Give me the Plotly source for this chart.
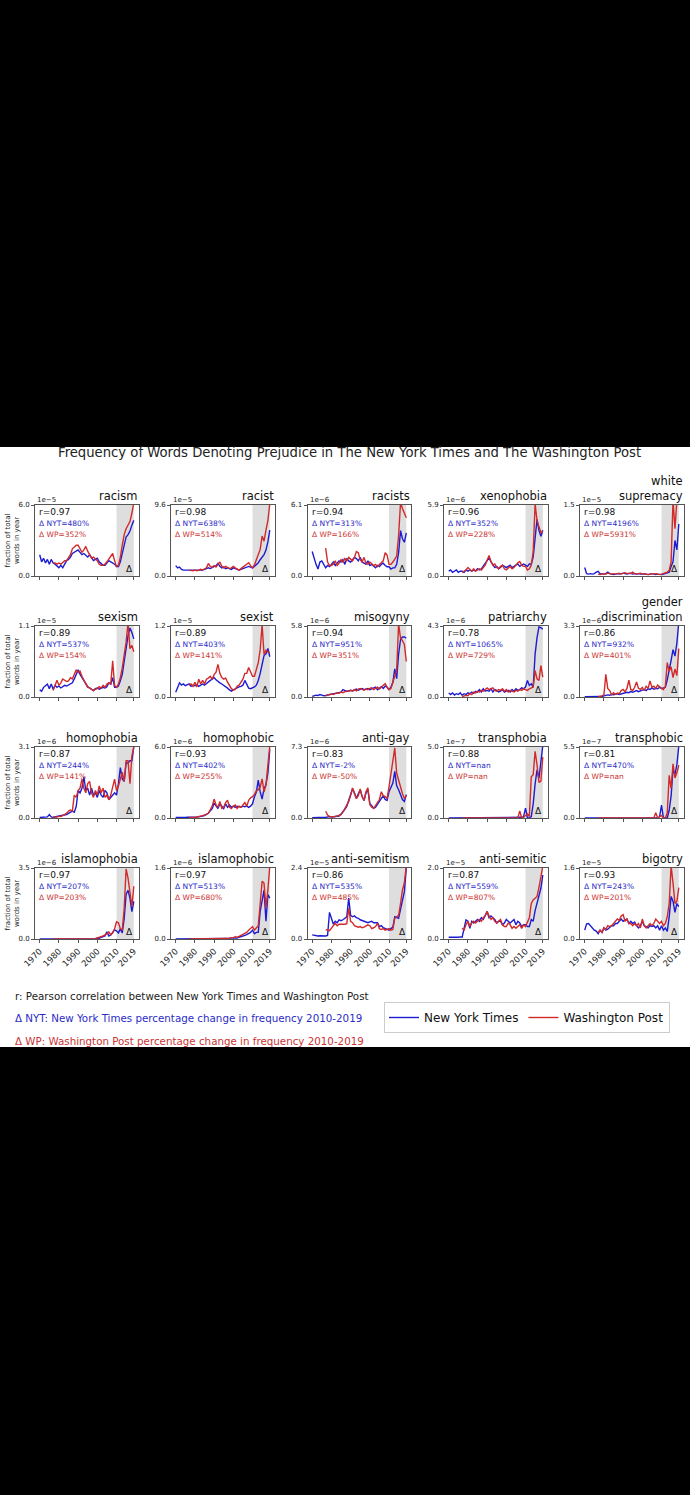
import plotly.graph_objects as go

W, H = 690, 1495

YEARS_NYT = list(range(1970, 2020))   # New York Times years
YEARS_WP = list(range(1977, 2020))    # Washington Post years

TERMS = ["racism", "racist", "racists", "xenophobia", "white supremacy",
         "sexism", "sexist", "misogyny", "patriarchy", "gender discrimination",
         "homophobia", "homophobic", "anti-gay", "transphobia", "transphobic",
         "islamophobia", "islamophobic", "anti-semitism", "anti-semitic", "bigotry"]
TITLES = ["racism", "racist", "racists", "xenophobia", "white<br>supremacy",
          "sexism", "sexist", "misogyny", "patriarchy", "gender<br>discrimination",
          "homophobia", "homophobic", "anti-gay", "transphobia", "transphobic",
          "islamophobia", "islamophobic", "anti-semitism", "anti-semitic", "bigotry"]
R_VALUES = ["0.97", "0.98", "0.94", "0.96", "0.98",
            "0.89", "0.89", "0.94", "0.78", "0.86",
            "0.87", "0.93", "0.83", "0.88", "0.81",
            "0.97", "0.97", "0.86", "0.87", "0.93"]
DELTA_NYT = ["480%", "638%", "313%", "352%", "4196%",
             "537%", "403%", "951%", "1065%", "932%",
             "244%", "402%", "-2%", "nan", "470%",
             "207%", "513%", "535%", "559%", "243%"]
DELTA_WP = ["352%", "514%", "166%", "228%", "5931%",
            "154%", "141%", "351%", "729%", "401%",
            "141%", "255%", "-50%", "nan", "nan",
            "203%", "680%", "485%", "807%", "201%"]
EXPONENTS = [-5, -5, -6, -6, -5,
             -5, -5, -6, -6, -6,
             -6, -6, -6, -7, -7,
             -6, -6, -5, -5, -5]
Y_MAX = [6.0, 9.6, 6.1, 5.9, 1.5,
         1.1, 1.2, 5.8, 4.3, 3.3,
         3.1, 6.0, 7.3, 5.0, 5.5,
         3.5, 1.6, 2.4, 2.0, 1.6]
X_TICKS = [1970, 1980, 1990, 2000, 2010, 2019]

# values in units of 10^EXPONENT (fraction of total words in year)
racism_nyt = [1.8, 1.2, 1.5, 1.1, 1.4, 1.0, 1.4, 1.1, 1.0, 0.8,
              0.7, 0.9, 0.7, 1.0, 1.3, 1.4, 1.6, 1.9, 2.0, 2.1,
              2.2, 2.0, 1.8, 1.9, 1.7, 1.6, 1.8, 1.5, 1.3, 1.4,
              1.5, 1.2, 1.0, 0.9, 0.9, 1.1, 1.3, 1.2, 1.1, 1.0,
              0.8, 0.8, 1.2, 2.0, 2.8, 3.3, 3.5, 3.8, 4.3, 4.7]
racism_wp = [1.1, 1.1, 1.0, 1.1, 1.0, 1.2, 1.3, 1.3, 1.5, 1.8,
             2.3, 2.5, 2.6, 2.6, 2.3, 2.0, 2.2, 2.5, 2.1, 1.8,
             1.5, 1.6, 1.4, 1.3, 1.0, 0.9, 0.9, 1.0, 1.2, 1.4,
             1.7, 1.9, 1.3, 0.8, 0.9, 1.6, 2.6, 3.5, 4.0, 4.3,
             4.6, 5.3, 6.2]
racist_nyt = [1.4, 1.1, 1.2, 0.9, 0.8, 0.8, 0.7, 0.8, 0.8, 0.7,
              0.8, 0.7, 0.7, 0.8, 0.8, 0.9, 1.0, 1.1, 1.0, 1.1,
              1.3, 1.4, 1.7, 1.3, 1.1, 1.2, 1.0, 1.1, 1.0, 0.9,
              1.1, 1.0, 0.9, 0.8, 0.9, 1.0, 1.1, 1.2, 1.3, 1.2,
              1.1, 1.3, 1.5, 1.8, 2.2, 2.6, 2.9, 3.5, 4.6, 6.2]
racist_wp = [0.8, 0.7, 0.7, 0.8, 0.7, 0.8, 0.9, 0.8, 1.0, 1.1,
             1.7, 1.3, 1.2, 1.4, 1.2, 1.6, 1.9, 1.3, 1.1, 1.3,
             1.2, 1.0, 1.1, 1.3, 1.1, 0.9, 0.8, 1.0, 1.2, 1.4,
             1.7, 1.8, 1.4, 1.1, 1.5, 2.2, 3.0, 3.6, 5.4, 4.7,
             6.2, 7.5, 9.8]
racists_nyt = [2.1, 1.5, 1.0, 0.6, 1.2, 1.3, 1.0, 0.7, 0.9, 0.8,
               1.0, 1.2, 0.9, 1.1, 1.3, 1.2, 1.4, 1.0, 1.5, 1.3,
               1.2, 1.4, 1.6, 1.5, 1.3, 1.6, 1.2, 1.1, 1.0, 1.3,
               0.9, 1.0, 0.8, 0.7, 0.9, 0.8, 1.0, 1.1, 0.9, 0.8,
               0.8, 0.6, 0.7, 0.7, 1.0, 2.0, 3.9, 3.2, 2.9, 3.7]
racists_wp = [2.4, 1.2, 0.9, 0.9, 1.0, 1.3, 0.9, 1.1, 1.4, 1.2,
              1.5, 1.3, 1.6, 1.4, 1.3, 1.6, 2.1, 2.0, 1.4, 1.2,
              1.6, 1.1, 1.0, 1.2, 1.0, 0.9, 1.0, 0.8, 1.0, 1.2,
              1.3, 2.0, 1.8, 1.0, 1.0, 1.2, 1.5, 1.7, 3.5, 6.3,
              5.8, 5.4, 5.0]
xenophobia_nyt = [0.4, 0.5, 0.3, 0.4, 0.5, 0.3, 0.4, 0.4, 0.3, 0.5,
                  0.4, 0.5, 0.4, 0.5, 0.4, 0.6, 0.5, 0.6, 0.8, 1.0,
                  1.3, 1.5, 1.2, 0.9, 0.7, 0.8, 0.6, 0.7, 0.9, 0.8,
                  0.7, 0.8, 0.9, 0.7, 0.8, 0.9, 1.0, 0.8, 0.9, 1.0,
                  0.9, 0.8, 1.0, 1.0, 1.6, 3.0, 4.7, 3.8, 3.3, 3.8]
xenophobia_wp = [0.3, 0.4, 0.5, 0.7, 0.5, 0.4, 0.6, 0.4, 0.5, 0.6,
                 0.5, 0.7, 0.9, 1.3, 1.7, 1.2, 0.9, 1.0, 0.7, 0.6,
                 0.8, 0.9, 0.6, 0.5, 0.7, 0.8, 0.6, 0.7, 0.9, 1.1,
                 1.2, 0.9, 0.8, 0.8, 0.5, 0.6, 0.9, 2.0, 6.0, 4.6,
                 4.1, 3.6, 3.7]
white_supremacy_nyt = [0.18, 0.05, 0.04, 0.05, 0.04, 0.05, 0.08, 0.10, 0.05, 0.04,
                       0.04, 0.05, 0.08, 0.05, 0.04, 0.03, 0.04, 0.05, 0.04, 0.05,
                       0.06, 0.05, 0.04, 0.05, 0.06, 0.04, 0.05, 0.04, 0.05, 0.04,
                       0.04, 0.05, 0.04, 0.03, 0.04, 0.05, 0.04, 0.03, 0.04, 0.03,
                       0.03, 0.04, 0.05, 0.06, 0.08, 0.20, 0.30, 0.75, 0.55, 1.10]
white_supremacy_wp = [0.04, 0.03, 0.04, 0.05, 0.04, 0.06, 0.05, 0.04, 0.05, 0.04,
                      0.05, 0.06, 0.04, 0.05, 0.07, 0.05, 0.06, 0.05, 0.08, 0.05,
                      0.04, 0.05, 0.06, 0.04, 0.05, 0.04, 0.03, 0.04, 0.05, 0.04,
                      0.05, 0.04, 0.03, 0.04, 0.05, 0.06, 0.08, 0.12, 0.30, 1.60,
                      1.00, 1.60, 1.80]
sexism_nyt = [0.11, 0.09, 0.15, 0.18, 0.20, 0.13, 0.20, 0.12, 0.18, 0.15,
              0.17, 0.14, 0.16, 0.18, 0.17, 0.19, 0.20, 0.22, 0.28, 0.35,
              0.42, 0.35, 0.30, 0.24, 0.20, 0.16, 0.14, 0.12, 0.10, 0.13,
              0.14, 0.12, 0.13, 0.15, 0.14, 0.16, 0.22, 0.20, 0.30, 0.15,
              0.15, 0.17, 0.25, 0.35, 0.55, 0.75, 0.95, 1.07, 1.00, 0.90]
sexism_wp = [0.10, 0.20, 0.26, 0.18, 0.22, 0.28, 0.26, 0.24, 0.25, 0.30,
             0.28, 0.36, 0.42, 0.38, 0.40, 0.32, 0.26, 0.20, 0.15, 0.14,
             0.12, 0.10, 0.12, 0.13, 0.16, 0.14, 0.18, 0.15, 0.20, 0.22,
             0.20, 0.56, 0.18, 0.15, 0.20, 0.30, 0.45, 0.65, 0.85, 1.15,
             0.75, 0.80, 0.70]
sexist_nyt = [0.08, 0.17, 0.24, 0.20, 0.22, 0.19, 0.20, 0.22, 0.18, 0.20,
              0.19, 0.21, 0.18, 0.20, 0.22, 0.20, 0.23, 0.25, 0.28, 0.30,
              0.33, 0.29, 0.26, 0.24, 0.22, 0.20, 0.18, 0.15, 0.12, 0.10,
              0.12, 0.14, 0.15, 0.17, 0.18, 0.20, 0.28, 0.22, 0.15, 0.14,
              0.15, 0.17, 0.20, 0.28, 0.40, 0.55, 0.70, 0.73, 0.82, 0.68]
sexist_wp = [0.20, 0.22, 0.18, 0.25, 0.17, 0.30, 0.22, 0.28, 0.22, 0.30,
             0.32, 0.35, 0.30, 0.38, 0.42, 0.55, 0.40, 0.33, 0.30, 0.32,
             0.25, 0.18, 0.14, 0.12, 0.13, 0.18, 0.20, 0.25, 0.30, 0.40,
             0.40, 0.50, 0.42, 0.35, 0.35, 0.45, 0.58, 0.80, 1.22, 0.72,
             0.79, 0.76, 0.75]
misogyny_nyt = [0.05, 0.10, 0.15, 0.12, 0.20, 0.15, 0.10, 0.12, 0.15, 0.20,
                0.20, 0.25, 0.30, 0.28, 0.35, 0.40, 0.60, 0.50, 0.45, 0.50,
                0.55, 0.50, 0.60, 0.65, 0.55, 0.60, 0.70, 0.60, 0.65, 0.70,
                0.60, 0.65, 0.70, 0.80, 0.60, 0.70, 0.85, 0.70, 0.90, 0.80,
                0.60, 0.80, 1.20, 2.30, 1.50, 3.50, 4.70, 4.90, 4.90, 4.80]
misogyny_wp = [0.10, 0.15, 0.20, 0.25, 0.20, 0.30, 0.35, 0.30, 0.40, 0.35,
               0.40, 0.50, 0.45, 0.55, 0.50, 0.60, 0.50, 0.65, 0.70, 0.60,
               0.55, 0.65, 0.60, 0.70, 0.75, 0.60, 0.70, 0.80, 0.65, 0.80,
               0.95, 1.10, 0.80, 0.60, 0.70, 1.20, 1.80, 2.20, 6.00, 4.80,
               4.60, 4.30, 2.90]
patriarchy_nyt = [0.24, 0.15, 0.25, 0.12, 0.20, 0.15, 0.25, 0.10, 0.20, 0.15,
                  0.25, 0.20, 0.30, 0.22, 0.35, 0.30, 0.45, 0.30, 0.50, 0.35,
                  0.40, 0.35, 0.50, 0.30, 0.45, 0.40, 0.30, 0.35, 0.45, 0.30,
                  0.35, 0.40, 0.30, 0.45, 0.35, 0.50, 0.40, 0.45, 0.55, 0.50,
                  0.60, 1.00, 0.70, 0.80, 0.60, 2.60, 3.60, 4.24, 4.20, 4.10]
patriarchy_wp = [0.02, 0.05, 0.10, 0.08, 0.20, 0.15, 0.30, 0.25, 0.35, 0.30,
                 0.40, 0.35, 0.45, 0.55, 0.45, 0.50, 0.55, 0.40, 0.35, 0.45,
                 0.40, 0.50, 0.35, 0.45, 0.30, 0.40, 0.35, 0.30, 0.40, 0.35,
                 0.45, 0.40, 0.50, 0.45, 0.40, 0.50, 0.55, 0.60, 1.60, 1.10,
                 1.00, 1.90, 1.20]
gender_discrimination_nyt = [0.01, 0.01, 0.02, 0.01, 0.02, 0.02, 0.01, 0.02, 0.03, 0.02,
                             0.05, 0.08, 0.10, 0.08, 0.12, 0.10, 0.13, 0.15, 0.12, 0.14,
                             0.15, 0.18, 0.22, 0.20, 0.25, 0.22, 0.28, 0.30, 0.25, 0.30,
                             0.32, 0.35, 0.30, 0.38, 0.35, 0.42, 0.36, 0.40, 0.38, 0.45,
                             0.40, 0.42, 0.45, 0.80, 1.20, 1.70, 2.20, 1.90, 2.50, 3.50]
gender_discrimination_wp = [0.02, 0.03, 0.05, 0.10, 1.05, 0.40, 0.30, 0.10, 0.20, 0.12,
                            0.18, 0.15, 0.30, 0.35, 0.25, 0.40, 0.78, 0.35, 0.30, 0.45,
                            0.70, 0.40, 0.35, 0.45, 0.30, 0.50, 0.40, 0.75, 0.45, 0.50,
                            0.40, 0.55, 0.45, 0.40, 0.35, 0.50, 1.60, 1.20, 1.40, 0.90,
                            1.30, 1.00, 2.25]
homophobia_nyt = [0.02, 0.02, 0.03, 0.02, 0.05, 0.15, 0.05, 0.03, 0.05, 0.04,
                  0.06, 0.08, 0.10, 0.12, 0.15, 0.20, 0.25, 0.30, 0.25, 0.50,
                  1.20, 1.10, 1.30, 1.80, 1.20, 1.30, 1.00, 1.30, 1.00, 1.10,
                  0.90, 1.20, 1.00, 0.90, 1.20, 1.10, 0.80, 0.90, 1.00, 1.10,
                  1.00, 1.50, 2.20, 1.70, 1.60, 2.40, 2.40, 2.50, 2.50, 3.10]
homophobia_wp = [0.02, 0.05, 0.04, 0.08, 0.06, 0.10, 0.15, 0.20, 0.30, 0.35,
                 0.30, 1.00, 0.90, 1.20, 1.30, 1.70, 1.30, 1.10, 1.50, 1.60,
                 1.10, 0.90, 1.20, 1.00, 1.40, 1.10, 1.30, 0.90, 1.00, 0.80,
                 1.00, 1.30, 1.70, 1.20, 1.40, 1.70, 2.00, 1.60, 2.50, 2.50,
                 1.50, 2.70, 3.10]
homophobic_nyt = [0.05, 0.04, 0.06, 0.05, 0.04, 0.05, 0.06, 0.05, 0.04, 0.06,
                  0.05, 0.07, 0.10, 0.12, 0.15, 0.20, 0.30, 0.40, 0.60, 0.80,
                  1.25, 1.00, 0.80, 1.20, 1.00, 0.80, 1.20, 0.90, 1.10, 0.90,
                  1.00, 0.90, 1.00, 0.95, 0.90, 1.00, 0.95, 1.00, 0.90, 1.00,
                  1.20, 1.80, 2.20, 3.20, 2.20, 1.60, 2.50, 2.80, 3.80, 5.80]
homophobic_wp = [0.05, 0.04, 0.06, 0.05, 0.08, 0.10, 0.15, 0.20, 0.25, 0.30,
                 0.40, 0.70, 1.00, 1.60, 1.10, 0.90, 1.40, 0.80, 0.90, 1.30,
                 1.50, 0.90, 0.80, 1.00, 1.10, 0.80, 1.00, 0.90, 1.10, 1.30,
                 1.00, 1.50, 1.70, 1.80, 2.00, 2.30, 2.40, 2.60, 3.30, 2.20,
                 2.80, 4.50, 6.10]
anti_gay_nyt = [0.02, 0.02, 0.03, 0.02, 0.03, 0.04, 0.05, 0.08, 0.10, 0.15,
                0.10, 0.12, 0.15, 0.18, 0.20, 0.40, 0.60, 0.90, 1.20, 1.80,
                2.40, 3.00, 2.60, 2.00, 2.50, 2.90, 2.20, 1.80, 2.60, 2.90,
                1.50, 1.20, 1.00, 1.10, 1.40, 1.70, 2.00, 2.30, 1.90, 1.80,
                2.70, 3.20, 3.60, 4.80, 3.30, 2.90, 2.40, 1.90, 1.70, 2.40]
anti_gay_wp = [0.70, 0.30, 0.15, 0.10, 0.12, 0.15, 0.20, 0.25, 0.35, 0.60,
               1.00, 1.30, 1.70, 2.30, 3.10, 2.50, 2.00, 2.30, 3.00, 2.20,
               1.80, 2.70, 3.10, 1.40, 1.10, 1.00, 1.30, 1.70, 1.90, 2.70,
               2.30, 2.20, 2.00, 3.20, 4.50, 5.60, 7.20, 4.60, 3.80, 3.10,
               2.50, 2.00, 2.30]
transphobia_nyt = [0.0, 0.0, 0.0, 0.0, 0.0, 0.0, 0.0, 0.0, 0.0, 0.0,
                   0.0, 0.0, 0.0, 0.0, 0.0, 0.0, 0.0, 0.0, 0.0, 0.0,
                   0.0, 0.0, 0.0, 0.0, 0.0, 0.0, 0.0, 0.0, 0.0, 0.0,
                   0.0, 0.0, 0.0, 0.0, 0.0, 0.0, 0.0, 0.0, 0.05, 0.1,
                   0.7, 0.0, 0.0, 0.1, 1.0, 2.4, 3.4, 2.8, 4.3, 5.1]
transphobia_wp = [0.0, 0.0, 0.0, 0.0, 0.0, 0.0, 0.0, 0.0, 0.0, 0.0,
                  0.0, 0.0, 0.0, 0.0, 0.0, 0.0, 0.0, 0.0, 0.0, 0.0,
                  0.0, 0.0, 0.0, 0.0, 0.0, 0.0, 0.0, 0.0, 0.0, 0.0,
                  0.5, 0.0, 0.05, 0.15, 0.3, 0.1, 2.9, 3.05, 4.7, 3.75,
                  2.5, 2.6, 4.3]
transphobic_nyt = [0.0, 0.0, 0.0, 0.0, 0.0, 0.0, 0.0, 0.0, 0.0, 0.0,
                   0.0, 0.0, 0.0, 0.0, 0.0, 0.0, 0.0, 0.0, 0.0, 0.0,
                   0.0, 0.0, 0.0, 0.0, 0.0, 0.0, 0.0, 0.0, 0.0, 0.0,
                   0.0, 0.0, 0.0, 0.0, 0.0, 0.0, 0.0, 0.0, 0.0, 0.1,
                   1.0, 0.0, 0.0, 0.0, 0.6, 1.7, 3.75, 3.36, 4.13, 5.6]
transphobic_wp = [0.0, 0.0, 0.0, 0.0, 0.0, 0.0, 0.0, 0.0, 0.0, 0.0,
                  0.0, 0.0, 0.0, 0.0, 0.0, 0.0, 0.0, 0.0, 0.0, 0.0,
                  0.0, 0.0, 0.0, 0.0, 0.0, 0.0, 0.0, 0.0, 0.0, 0.0,
                  0.4, 0.0, 0.1, 0.2, 0.0, 0.0, 0.4, 3.3, 2.3, 4.2,
                  3.1, 3.5, 4.1]
islamophobia_nyt = [0.0, 0.0, 0.0, 0.0, 0.0, 0.0, 0.0, 0.0, 0.0, 0.0,
                    0.0, 0.0, 0.0, 0.0, 0.0, 0.0, 0.0, 0.0, 0.0, 0.0,
                    0.0, 0.0, 0.0, 0.0, 0.0, 0.01, 0.02, 0.01, 0.03, 0.02,
                    0.05, 0.04, 0.08, 0.10, 0.15, 0.36, 0.15, 0.20, 0.30, 0.45,
                    0.40, 0.30, 0.50, 0.30, 1.00, 2.20, 2.40, 2.00, 1.35, 1.85]
islamophobia_wp = [0.0, 0.0, 0.0, 0.0, 0.0, 0.0, 0.0, 0.0, 0.0, 0.0,
                   0.0, 0.0, 0.0, 0.0, 0.0, 0.0, 0.0, 0.01, 0.01, 0.02,
                   0.01, 0.03, 0.02, 0.05, 0.08, 0.10, 0.15, 0.20, 0.25, 0.35,
                   0.20, 0.30, 0.50, 0.85, 0.80, 0.50, 0.45, 1.50, 3.45, 3.00,
                   2.40, 1.60, 2.60]
islamophobic_nyt = [0.0, 0.0, 0.0, 0.0, 0.0, 0.0, 0.0, 0.0, 0.0, 0.0,
                    0.0, 0.0, 0.0, 0.0, 0.0, 0.0, 0.0, 0.0, 0.0, 0.0,
                    0.0, 0.0, 0.0, 0.0, 0.0, 0.0, 0.01, 0.01, 0.02, 0.02,
                    0.02, 0.03, 0.02, 0.04, 0.05, 0.06, 0.08, 0.10, 0.12, 0.15,
                    0.20, 0.12, 0.15, 0.15, 0.62, 0.90, 1.10, 0.40, 1.00, 0.92]
islamophobic_wp = [0.0, 0.0, 0.0, 0.0, 0.0, 0.0, 0.0, 0.0, 0.0, 0.0,
                   0.0, 0.0, 0.0, 0.0, 0.0, 0.0, 0.0, 0.01, 0.01, 0.02,
                   0.01, 0.02, 0.02, 0.03, 0.05, 0.04, 0.06, 0.08, 0.10, 0.12,
                   0.15, 0.20, 0.25, 0.28, 0.20, 0.25, 0.30, 0.80, 1.30, 1.26,
                   0.70, 1.10, 1.65]
anti_semitism_nyt = [0.14, 0.12, 0.10, 0.10, 0.11, 0.10, 0.10, 0.10, 0.12, 0.90,
                     0.70, 0.50, 0.60, 0.55, 0.65, 0.62, 0.65, 0.70, 0.75, 1.38,
                     0.80, 0.75, 0.78, 0.72, 0.70, 0.65, 0.62, 0.60, 0.57, 0.55,
                     0.58, 0.60, 0.55, 0.56, 0.55, 0.42, 0.45, 0.38, 0.35, 0.33,
                     0.30, 0.35, 0.40, 0.75, 0.72, 0.70, 1.00, 1.27, 1.60, 2.40]
anti_semitism_wp = [0.30, 0.32, 0.28, 0.35, 0.45, 0.53, 0.45, 0.50, 0.50, 0.48,
                    0.50, 0.52, 1.04, 0.60, 0.55, 0.45, 0.42, 0.40, 0.42, 0.38,
                    0.40, 0.45, 0.48, 0.45, 0.35, 0.38, 0.42, 0.53, 0.35, 0.32,
                    0.35, 0.30, 0.33, 0.35, 0.30, 0.32, 0.70, 0.75, 0.80, 1.20,
                    1.66, 1.90, 2.50]
anti_semitic_nyt = [0.05, 0.04, 0.05, 0.05, 0.04, 0.05, 0.06, 0.05, 0.30, 0.54,
                    0.50, 0.30, 0.50, 0.45, 0.50, 0.55, 0.50, 0.60, 0.55, 0.65,
                    0.77, 0.60, 0.65, 0.60, 0.55, 0.45, 0.50, 0.50, 0.40, 0.45,
                    0.55, 0.50, 0.45, 0.50, 0.55, 0.40, 0.50, 0.45, 0.35, 0.40,
                    0.40, 0.35, 0.35, 0.55, 0.50, 0.80, 1.00, 1.20, 1.43, 1.80]
anti_semitic_wp = [0.30, 0.25, 0.40, 0.50, 0.35, 0.45, 0.50, 0.45, 0.50, 0.55,
                   0.50, 0.60, 0.65, 0.78, 0.65, 0.55, 0.60, 0.50, 0.45, 0.50,
                   0.55, 0.40, 0.35, 0.35, 0.45, 0.40, 0.30, 0.35, 0.30, 0.35,
                   0.40, 0.30, 0.40, 0.35, 0.50, 0.60, 1.00, 1.10, 1.15, 1.20,
                   1.45, 1.80, 2.05]
bigotry_nyt = [0.20, 0.34, 0.35, 0.30, 0.25, 0.20, 0.18, 0.12, 0.20, 0.15,
               0.25, 0.20, 0.22, 0.25, 0.30, 0.30, 0.35, 0.35, 0.40, 0.45,
               0.40, 0.42, 0.45, 0.35, 0.40, 0.35, 0.38, 0.30, 0.25, 0.30,
               0.40, 0.30, 0.28, 0.25, 0.30, 0.28, 0.30, 0.25, 0.30, 0.20,
               0.30, 0.20, 0.25, 0.17, 0.50, 0.96, 0.85, 0.60, 0.80, 0.73]
bigotry_wp = [0.15, 0.20, 0.15, 0.25, 0.22, 0.30, 0.28, 0.30, 0.35, 0.40,
              0.45, 0.42, 0.52, 0.55, 0.40, 0.45, 0.35, 0.35, 0.30, 0.35,
              0.30, 0.35, 0.25, 0.45, 0.30, 0.25, 0.30, 0.35, 0.30, 0.35,
              0.45, 0.40, 0.35, 0.40, 0.30, 0.35, 0.50, 0.80, 1.65, 1.26,
              0.80, 0.85, 1.16]

NYT_SERIES = [racism_nyt, racist_nyt, racists_nyt, xenophobia_nyt, white_supremacy_nyt,
              sexism_nyt, sexist_nyt, misogyny_nyt, patriarchy_nyt, gender_discrimination_nyt,
              homophobia_nyt, homophobic_nyt, anti_gay_nyt, transphobia_nyt, transphobic_nyt,
              islamophobia_nyt, islamophobic_nyt, anti_semitism_nyt, anti_semitic_nyt, bigotry_nyt]
WP_SERIES = [racism_wp, racist_wp, racists_wp, xenophobia_wp, white_supremacy_wp,
             sexism_wp, sexist_wp, misogyny_wp, patriarchy_wp, gender_discrimination_wp,
             homophobia_wp, homophobic_wp, anti_gay_wp, transphobia_wp, transphobic_wp,
             islamophobia_wp, islamophobic_wp, anti_semitism_wp, anti_semitic_wp, bigotry_wp]

for name, a, b in zip(TERMS, NYT_SERIES, WP_SERIES):
    if len(a) != len(YEARS_NYT) or len(b) != len(YEARS_WP):
        raise ValueError(f"{name}: {len(a)} {len(b)}")

BLUE = "#1c1cd2"
RED = "#d22a2a"
BLUE_TXT = "#2b2bc8"
RED_TXT = "#cc3333"
SPINE = "#555555"

# layout (pixels)
COL_LEFT = [35, 171, 307.5, 444, 580]
PANEL_W = 103.5
ROW_TOP = [505, 626, 747, 868]
PANEL_H = 71


def xp(px):
    return px / W


def yp(py):
    return 1 - py / H


fig = go.Figure()
annotations = []
shapes = []

# white page area
shapes.append(dict(type="rect", xref="paper", yref="paper", x0=0, x1=1,
                   y0=yp(1047), y1=yp(447), fillcolor="white", line=dict(width=0),
                   layer="below"))

for i, term in enumerate(TERMS):
    row, col = divmod(i, 5)
    left = COL_LEFT[col]
    right = left + PANEL_W
    top = ROW_TOP[row]
    bottom = top + PANEL_H
    n = i + 1
    xa = "x" if n == 1 else f"x{n}"
    ya = "y" if n == 1 else f"y{n}"
    xkey = "xaxis" if n == 1 else f"xaxis{n}"
    ykey = "yaxis" if n == 1 else f"yaxis{n}"

    fig.add_trace(go.Scatter(x=YEARS_NYT, y=NYT_SERIES[i], mode="lines",
                             line=dict(color=BLUE, width=1.4),
                             name="New York Times", legendgroup="nyt",
                             showlegend=(i == 0), xaxis=xa, yaxis=ya))
    fig.add_trace(go.Scatter(x=YEARS_WP, y=WP_SERIES[i], mode="lines",
                             line=dict(color=RED, width=1.4),
                             name="Washington Post", legendgroup="wp",
                             showlegend=(i == 0), xaxis=xa, yaxis=ya))

    bottom_row = (row == 3)
    fig.layout[xkey] = dict(
        domain=[xp(left), xp(right)], anchor=ya, range=[1967.55, 2021.45],
        tickmode="array", tickvals=X_TICKS,
        ticktext=[str(t) for t in X_TICKS] if bottom_row else [""] * len(X_TICKS),
        tickangle=-45, tickfont=dict(family="DejaVu Sans", size=8.5, color="#222"),
        ticks="outside", ticklen=3, tickcolor=SPINE, tickwidth=1,
        showline=True, linecolor=SPINE, linewidth=1, mirror=True,
        showgrid=False, zeroline=False, fixedrange=True, automargin=False)
    ymax = Y_MAX[i]
    fig.layout[ykey] = dict(
        domain=[yp(bottom), yp(top)], anchor=xa, range=[0, ymax],
        tickmode="array", tickvals=[0, ymax], ticktext=["0.0", f"{ymax:.1f}"],
        tickfont=dict(family="DejaVu Sans", size=7, color="#222"),
        ticks="outside", ticklen=3, tickcolor=SPINE, tickwidth=1,
        showline=True, linecolor=SPINE, linewidth=1, mirror=True,
        showgrid=False, zeroline=False, fixedrange=True, automargin=False)

    # 2010-2019 shaded window
    shapes.append(dict(type="rect", xref=xa, yref=f"{ya} domain", x0=2010, x1=2019,
                       y0=0, y1=1, fillcolor="#dedede", line=dict(width=0), layer="below"))

    # panel title
    annotations.append(dict(text=TITLES[i], xref="paper", yref="paper",
                            x=xp(right + 1), y=yp(top), xanchor="right", yanchor="bottom",
                            align="right", showarrow=False,
                            font=dict(family="DejaVu Sans", size=11.5, color="#111")))
    # exponent label
    annotations.append(dict(text=f"1e\u2212{-EXPONENTS[i]}", xref="paper", yref="paper",
                            x=xp(left), y=yp(top - 5), xanchor="left", yanchor="middle",
                            showarrow=False,
                            font=dict(family="DejaVu Sans", size=7, color="#222")))
    # statistics
    annotations.append(dict(text=f"r={R_VALUES[i]}", xref="paper", yref="paper",
                            x=xp(left + 2), y=yp(top + 7), xanchor="left", yanchor="middle",
                            showarrow=False,
                            font=dict(family="DejaVu Sans", size=9, color="#111")))
    annotations.append(dict(text=f"\u0394 NYT={DELTA_NYT[i]}", xref="paper", yref="paper",
                            x=xp(left + 2), y=yp(top + 18.5), xanchor="left", yanchor="middle",
                            showarrow=False,
                            font=dict(family="DejaVu Sans", size=7.5, color=BLUE_TXT)))
    annotations.append(dict(text=f"\u0394 WP={DELTA_WP[i]}", xref="paper", yref="paper",
                            x=xp(left + 2), y=yp(top + 29.5), xanchor="left", yanchor="middle",
                            showarrow=False,
                            font=dict(family="DejaVu Sans", size=7.5, color=RED_TXT)))
    annotations.append(dict(text="\u0394", xref="paper", yref="paper",
                            x=xp(right - 9), y=yp(bottom - 7), xanchor="center", yanchor="middle",
                            showarrow=False,
                            font=dict(family="DejaVu Sans", size=9, color="#111")))

# y-axis labels on first column
for row in range(4):
    cy = ROW_TOP[row] + PANEL_H / 2
    annotations.append(dict(text="fraction of total<br>words in year", xref="paper", yref="paper",
                            x=xp(12), y=yp(cy), xanchor="center", yanchor="middle",
                            textangle=-90, showarrow=False,
                            font=dict(family="DejaVu Sans", size=7, color="#222")))

# figure title
annotations.append(dict(text="Frequency of Words Denoting Prejudice in The New York Times and The Washington Post",
                        xref="paper", yref="paper", x=xp(349), y=yp(452), xanchor="center",
                        yanchor="middle", showarrow=False,
                        font=dict(family="DejaVu Sans", size=13.2, color="#222")))

# footnotes
annotations.append(dict(text="r: Pearson correlation between New York Times and Washington Post",
                        xref="paper", yref="paper", x=xp(13), y=yp(996), xanchor="left",
                        yanchor="middle", showarrow=False,
                        font=dict(family="DejaVu Sans", size=10.3, color="#222")))
annotations.append(dict(text="\u0394 NYT: New York Times percentage change in frequency 2010-2019",
                        xref="paper", yref="paper", x=xp(13), y=yp(1018), xanchor="left",
                        yanchor="middle", showarrow=False,
                        font=dict(family="DejaVu Sans", size=10.3, color=BLUE_TXT)))
annotations.append(dict(text="\u0394 WP: Washington Post percentage change in frequency 2010-2019",
                        xref="paper", yref="paper", x=xp(13), y=yp(1041), xanchor="left",
                        yanchor="middle", showarrow=False,
                        font=dict(family="DejaVu Sans", size=10.3, color=RED_TXT)))

fig.update_layout(
    width=W, height=H, autosize=False,
    margin=dict(l=0, r=0, t=0, b=0, pad=0, autoexpand=False),
    paper_bgcolor="black", plot_bgcolor="white",
    font=dict(family="DejaVu Sans"),
    shapes=shapes, annotations=annotations,
    legend=dict(orientation="h", x=xp(384), y=yp(1017.5), xanchor="left", yanchor="middle",
                bgcolor="white", bordercolor="#cccccc", borderwidth=1,
                font=dict(family="DejaVu Sans", size=12, color="#111"),
                tracegroupgap=0),
    hovermode=False,
)

fig.write_html("out.html")
